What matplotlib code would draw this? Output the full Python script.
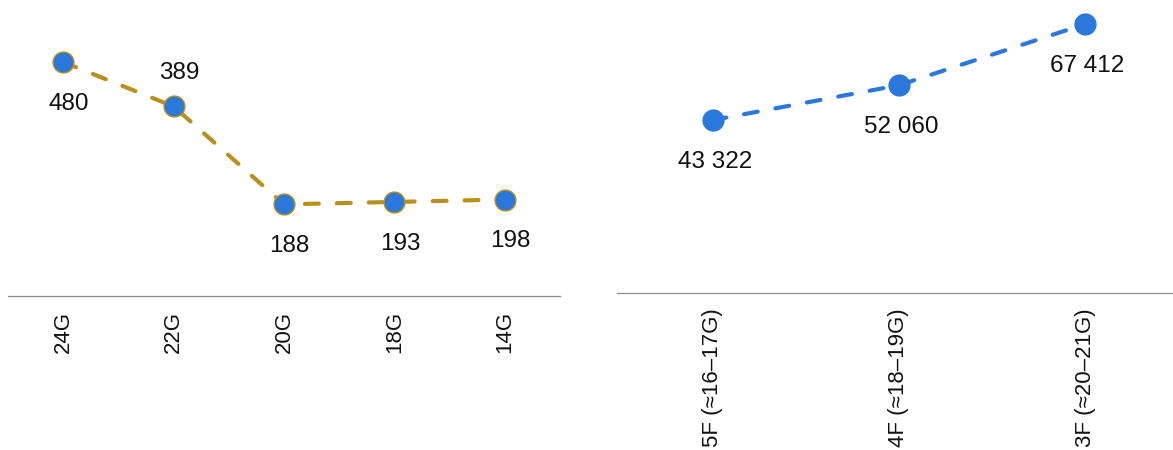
import matplotlib
matplotlib.use("Agg")
import matplotlib.pyplot as plt

# ---- data -------------------------------------------------------------------
left_cats = ["24G", "22G", "20G", "18G", "14G"]
left_vals = [480, 389, 188, 193, 198]

right_cats = ["5F (≈16–17G)", "4F (≈18–19G)", "3F (≈20–21G)"]
right_vals = [43322, 52060, 67412]

# ---- style ------------------------------------------------------------------
C_BLUE = "#2B78DC"
C_GOLD = "#B8911C"
C_AXIS = "#8C8C8C"
C_TEXT = "#111111"
FONT = ["Liberation Sans Narrow", "Liberation Sans", "DejaVu Sans"]
VAL_SIZE = 17.5
TICK_SIZE = 16

plt.rcParams.update({
    "font.family": FONT,
    "font.size": VAL_SIZE,
    "lines.scale_dashes": False,
})

W, H = 1173, 450
fig = plt.figure(figsize=(W / 100, H / 100), dpi=100)


def _panel(rect, cats, vals, xlim, ylim, line_color, edge_color, labels, dx):
    ax = fig.add_axes(rect)
    ax.set_xlim(*xlim)
    ax.set_ylim(*ylim)
    xs = list(range(len(cats)))
    ax.plot(xs, vals, color=line_color, linewidth=3.0, linestyle=(0, (10, 13)),
            dash_capstyle="round", zorder=2, clip_on=False)
    ax.plot(xs, vals, linestyle="none", marker="o", markersize=15,
            markerfacecolor=C_BLUE, markeredgecolor=edge_color,
            markeredgewidth=1.0, zorder=3, clip_on=False)
    for x, v, (txt, above) in zip(xs, vals, labels):
        dy = 20 if above else -34.5
        ax.annotate(txt, xy=(x, v), xytext=(dx, dy), textcoords="offset points",
                    ha="center", va="baseline", color=C_TEXT, fontsize=VAL_SIZE)
    ax.set_xticks(xs)
    ax.set_xticklabels(cats, rotation=90, color=C_TEXT, fontsize=TICK_SIZE)
    ax.tick_params(axis="x", length=0, pad=11)
    ax.set_yticks([])
    for side in ("top", "right", "left"):
        ax.spines[side].set_visible(False)
    ax.spines["bottom"].set_color(C_AXIS)
    ax.spines["bottom"].set_linewidth(0.9)
    ax.patch.set_alpha(0)
    return ax


# left panel: axis line from x=8 to 560 px, baseline at y=296 px
left_labels = [(str(v), v == 389) for v in left_vals]
_panel([8 / W, 1 - 296 / H, 552 / W, 292.4 / H], left_cats, left_vals,
       (-0.5, 4.5), (0, 600), C_GOLD, C_GOLD, left_labels, dx=4)

# right panel: axis line from x=617 px to figure edge, baseline at y=292.7 px
right_labels = [(f"{v:,}".replace(",", " "), False) for v in right_vals]
_panel([617.3 / W, 1 - 292.7 / H, (W - 617.3) / W, 286.9 / H], right_cats, right_vals,
       (-0.512, 2.472), (0, 72000), C_BLUE, C_BLUE, right_labels, dx=1.5)

fig.savefig("out.png", dpi=100)
